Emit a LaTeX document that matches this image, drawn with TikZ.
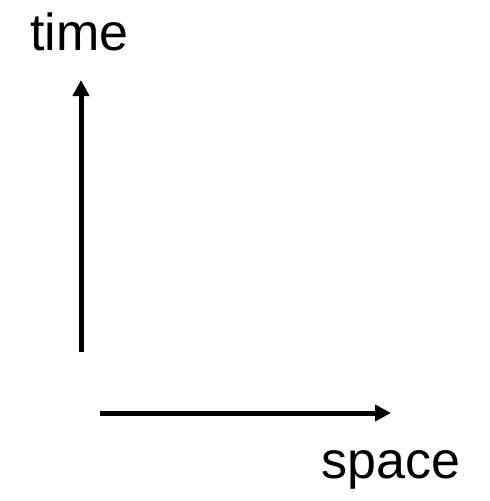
\documentclass[tikz,border=0pt]{standalone}
\usepackage{fontspec}
\setmainfont{Liberation Sans}
\usetikzlibrary{arrows.meta, positioning}

\begin{document}
\begin{tikzpicture}[
  x=1pt, y=-1pt,
  axislabel/.style={inner sep=0pt, anchor=base west, font=\fontsize{52}{60}\selectfont},
  arr/.style={-{Triangle[length=16pt, width=16pt]}, line width=5pt}
]
  \useasboundingbox (0,0) rectangle (490,501);
  \node[axislabel] (timelabel) at (30,50) {time};
  \node[axislabel] (spacelabel) at (321,478) {space};
  \coordinate (tstart) at (81,352);
  \coordinate (tend) at (81,80);
  \coordinate (sstart) at (100,413);
  \coordinate (send) at (391,413);
  \draw[arr] (tstart) -- (tend);
  \draw[arr] (sstart) -- (send);
\end{tikzpicture}
\end{document}
